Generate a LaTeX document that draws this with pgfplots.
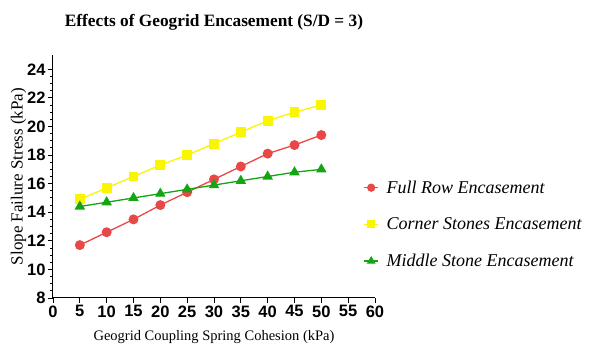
\documentclass[border=0pt]{standalone}
\usepackage{fontspec}
\setmainfont{Liberation Serif}
\setsansfont{Liberation Sans}
\usepackage{pgfplots}
\pgfplotsset{compat=1.18}
\definecolor{cred}{RGB}{232,72,72}
\definecolor{cyel}{RGB}{250,245,0}
\definecolor{cgrn}{RGB}{20,165,20}
\begin{document}
\begin{tikzpicture}[x=1pt,y=1pt]
\useasboundingbox (-53,-49) rectangle (540,298);
\begin{axis}[
  at={(0,0)}, anchor=origin,
  scale only axis, width=322pt, height=243pt,
  xmin=0, xmax=60, ymin=8, ymax=25,
  axis x line*=bottom, axis y line*=left,
  axis line style={line width=1pt, -},
  xtick={0,5,...,60}, ytick={8,10,...,24},
  minor y tick num=3,
  tick align=outside,
  major tick length=5pt, minor tick length=3pt,
  tick style={line width=0.9pt, black},
  ticklabel style={font=\sffamily\bfseries\fontsize{16.5}{16.5}\selectfont},
  xticklabel style={yshift=1pt},
  yticklabel style={xshift=1pt},
  /pgf/number format/assume math mode=true,
  xlabel={Geogrid Coupling Spring Cohesion (kPa)},
  ylabel={Slope Failure Stress (kPa)},
  xlabel style={font=\fontsize{14.5}{14.5}\selectfont, yshift=-6pt},
  ylabel style={font=\fontsize{17}{17}\selectfont, yshift=-6pt},
  title={\textbf{Effects of Geogrid Encasement (S/D = 3)}},
  title style={font=\fontsize{17.3}{17.3}\selectfont, at={(0.5,1)}, yshift=15pt},
  legend style={draw=none, fill=none, at={(0.955,0.50)}, anchor=north west,
    font=\itshape\fontsize{18}{18}\selectfont, row sep=19pt,
    nodes={inner xsep=8pt}},
  legend cell align=left,
  legend image post style={scale=0.8},
  clip=false,
]
\addplot[cred, line width=1.3pt, mark=*, mark size=4.3pt, mark options={fill=cred, draw=cred}] coordinates {
(5,11.7) (10,12.6) (15,13.5) (20,14.5) (25,15.4) (30,16.3) (35,17.2) (40,18.1) (45,18.7) (50,19.4)};
\addlegendentry{Full Row Encasement}
\addplot[cyel, line width=1.3pt, mark=square*, mark size=4.3pt, mark options={fill=cyel, draw=cyel}] coordinates {
(5,14.9) (10,15.7) (15,16.5) (20,17.3) (25,18.0) (30,18.8) (35,19.6) (40,20.4) (45,21.0) (50,21.5)};
\addlegendentry{Corner Stones Encasement}
\addplot[cgrn, line width=1.3pt, mark=triangle*, mark size=4.8pt, mark options={fill=cgrn, draw=cgrn}] coordinates {
(5,14.4) (10,14.7) (15,15.0) (20,15.3) (25,15.6) (30,15.9) (35,16.2) (40,16.5) (45,16.8) (50,17.0)};
\addlegendentry{Middle Stone Encasement}
\end{axis}
\end{tikzpicture}
\end{document}
